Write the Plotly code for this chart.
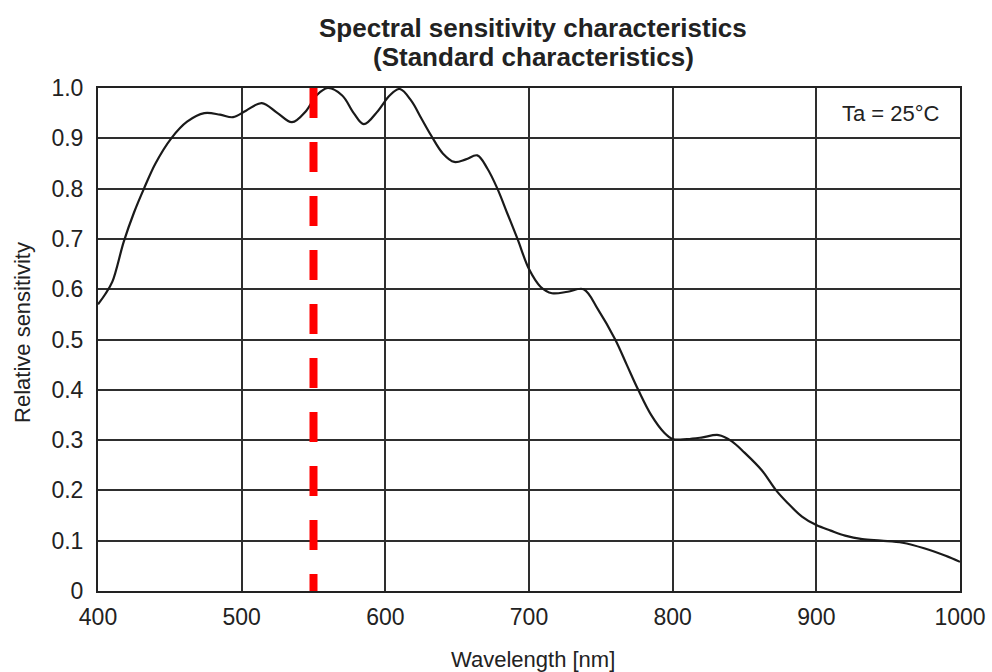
import plotly.graph_objects as go

wavelength = [400, 405, 410, 418, 425, 432, 440, 451, 462, 474, 485, 494, 503, 514, 525, 535,
              545, 552, 560, 570, 578, 585, 595, 603, 610, 618, 625, 632, 640, 648, 656, 664,
              671, 678, 685, 692, 700, 708, 716, 727, 738, 748, 760, 768, 776, 785, 794, 800,
              810, 820, 832, 841, 850, 862, 872, 880, 890, 900, 910, 920, 932, 945, 960, 975,
              990, 1000]
sensitivity = [0.57, 0.59, 0.615, 0.695, 0.752, 0.80, 0.85, 0.90, 0.933, 0.95, 0.947, 0.942,
               0.955, 0.97, 0.95, 0.932, 0.955, 0.985, 1.0, 0.985, 0.95, 0.928, 0.955, 0.985,
               0.998, 0.975, 0.94, 0.905, 0.87, 0.853, 0.858, 0.866, 0.84, 0.80, 0.75, 0.70,
               0.64, 0.605, 0.592, 0.595, 0.600, 0.56, 0.50, 0.45, 0.40, 0.35, 0.315, 0.302,
               0.302, 0.305, 0.31, 0.298, 0.275, 0.24, 0.20, 0.175, 0.148, 0.131, 0.12, 0.11,
               0.103, 0.10, 0.096, 0.085, 0.07, 0.058]
marker_wavelength = 550
x_ticks = [400, 500, 600, 700, 800, 900, 1000]
y_ticks = [0, 0.1, 0.2, 0.3, 0.4, 0.5, 0.6, 0.7, 0.8, 0.9, 1.0]
y_ticktext = ["0", "0.1", "0.2", "0.3", "0.4", "0.5", "0.6", "0.7", "0.8", "0.9", "1.0"]

FONT = "Liberation Sans, Arial, sans-serif"
TXT = "#222222"

fig = go.Figure()
fig.add_trace(go.Scatter(
    x=wavelength, y=sensitivity, mode="lines",
    line=dict(color="#1a1a1a", width=2.2, shape="spline", smoothing=1.0),
    showlegend=False, hoverinfo="skip"))

fig.add_shape(type="line", xref="x", yref="y",
              x0=marker_wavelength, x1=marker_wavelength, y0=1.0, y1=0.0,
              line=dict(color="#ff0000", width=8, dash="30px,24px"), layer="above")

fig.update_layout(
    width=992, height=672,
    margin=dict(l=98, r=32, t=88, b=81),
    paper_bgcolor="white", plot_bgcolor="white",
    font=dict(family=FONT, color=TXT, size=22),
    xaxis=dict(range=[400, 1000], tickvals=x_ticks, ticktext=[str(v) for v in x_ticks],
               showgrid=True, gridcolor="#2e2e2e", gridwidth=2,
               showline=True, linecolor="#222222", linewidth=2, mirror=True,
               ticks="", tickfont=dict(size=23, family=FONT, color=TXT),
               ticklabelstandoff=4, zeroline=False, fixedrange=True, automargin=False),
    yaxis=dict(range=[0, 1.0], tickvals=y_ticks, ticktext=y_ticktext,
               showgrid=True, gridcolor="#2e2e2e", gridwidth=2,
               showline=True, linecolor="#222222", linewidth=2, mirror=True,
               ticks="", tickfont=dict(size=23, family=FONT, color=TXT),
               ticklabelstandoff=8, zeroline=False, fixedrange=True, automargin=False),
)

annotations = [
    dict(text="<b>Spectral sensitivity characteristics</b>", x=0.505, y=1.119,
         font=dict(size=26, family=FONT, color=TXT)),
    dict(text="<b>(Standard characteristics)</b>", x=0.505, y=1.062,
         font=dict(size=26, family=FONT, color=TXT)),
    dict(text="Wavelength [nm]", x=0.505, y=-0.136,
         font=dict(size=22, family=FONT, color=TXT)),
    dict(text="Relative sensitivity", x=-0.087, y=0.513, textangle=-90,
         font=dict(size=22, family=FONT, color=TXT)),
    dict(text="Ta = 25°C", x=0.979, y=0.950, xanchor="right",
         font=dict(size=22, family=FONT, color=TXT)),
]
for a in annotations:
    a.setdefault("xanchor", "center")
    fig.add_annotation(xref="paper", yref="paper", showarrow=False, yanchor="middle", **a)

fig.write_html("out.html")
